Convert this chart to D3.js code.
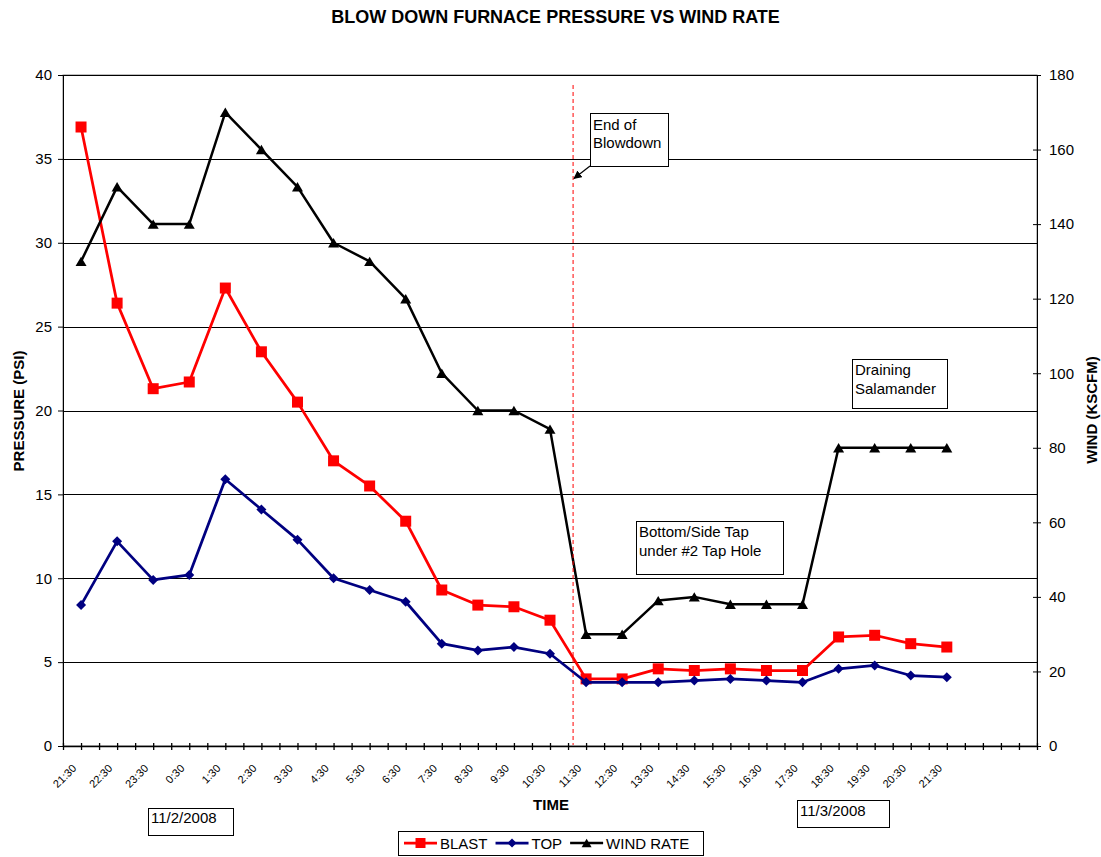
<!DOCTYPE html>
<html>
<head>
<meta charset="utf-8">
<script src="https://cdn.jsdelivr.net/npm/d3@7"></script>
<style>
  html, body { margin: 0; padding: 0; background: #fff; }
  svg { display: block; font-family: "Liberation Sans", Arial, sans-serif; }
</style>
</head>
<body>
<svg id="chart" width="1101" height="857"></svg>
<script>
// Hourly readings, 21:30 on 11/2/2008 through 21:30 on 11/3/2008
const timeLabels = ["21:30","22:30","23:30","0:30","1:30","2:30","3:30","4:30","5:30","6:30",
  "7:30","8:30","9:30","10:30","11:30","12:30","13:30","14:30","15:30","16:30","17:30",
  "18:30","19:30","20:30","21:30"];
const slotCount = 27;             // category slots on the time axis (last two empty)

// Blast pressure (PSI)
const blastPsi = [36.9, 26.4, 21.3, 21.7, 27.3, 23.5, 20.5, 17.0, 15.5, 13.4, 9.3, 8.4, 8.3, 7.5,
  4.0, 4.0, 4.6, 4.5, 4.6, 4.5, 4.5, 6.5, 6.6, 6.1, 5.9];
// Top pressure (PSI)
const topPsi = [8.4, 12.2, 9.9, 10.2, 15.9, 14.1, 12.3, 10.0, 9.3, 8.6, 6.1, 5.7, 5.9, 5.5,
  3.8, 3.8, 3.8, 3.9, 4.0, 3.9, 3.8, 4.6, 4.8, 4.2, 4.1];
// Wind rate (KSCFM), right axis
const windKscfm = [130, 150, 140, 140, 170, 160, 150, 135, 130, 120, 100, 90, 90, 85,
  30, 30, 39, 40, 38, 38, 38, 80, 80, 80, 80];

const pressureTicks = [0, 5, 10, 15, 20, 25, 30, 35, 40];
const windTicks = [0, 20, 40, 60, 80, 100, 120, 140, 160, 180];
const blowdownEndSlot = 13.64;    // end of blowdown, between 10:30 and 11:30

const svg = d3.select("#chart");
const FONT = "15px";
const plot = { left: 63, right: 1037, top: 75, bottom: 746 };

const x = d3.scaleLinear().domain([-0.5, slotCount - 0.5]).range([plot.left, plot.right]);
const yL = d3.scaleLinear().domain([0, 40]).range([plot.bottom, plot.top]);
const yR = d3.scaleLinear().domain([0, 180]).range([plot.bottom, plot.top]);

// Title
svg.append("text").attr("x", 555.5).attr("y", 23.3).attr("text-anchor", "middle")
  .attr("font-size", "18px").attr("font-weight", "bold").text("BLOW DOWN FURNACE PRESSURE VS WIND RATE");

// Plot-area frame and gridlines
svg.append("rect").attr("x", plot.left).attr("y", yL(40)).attr("width", plot.right - plot.left)
  .attr("height", plot.bottom - yL(40)).attr("fill", "none").attr("stroke", "#808080").attr("stroke-width", 1);
svg.append("g").selectAll("line").data(pressureTicks.filter(d => d > 0)).join("line")
  .attr("x1", plot.left).attr("x2", plot.right)
  .attr("y1", d => Math.round(yL(d)) + 0.5).attr("y2", d => Math.round(yL(d)) + 0.5)
  .attr("stroke", "#000").attr("stroke-width", 1);

// Left axis
const gL = svg.append("g").attr("transform", `translate(${plot.left},0)`)
  .call(d3.axisLeft(yL).tickValues(pressureTicks).tickSize(5).tickSizeOuter(0).tickPadding(6));
gL.selectAll("text").attr("font-size", FONT).attr("fill", "#000").attr("font-family", "Liberation Sans, Arial, sans-serif");
gL.selectAll("line, path").attr("stroke", "#000");

// Right axis
const gR = svg.append("g").attr("transform", `translate(${plot.right},0)`)
  .call(d3.axisRight(yR).tickValues(windTicks).tickSize(4).tickSizeOuter(0).tickPadding(8));
gR.selectAll(".tick line").attr("x1", -4);
gR.selectAll("text").attr("font-size", FONT).attr("fill", "#000").attr("font-family", "Liberation Sans, Arial, sans-serif");
gR.selectAll("line, path").attr("stroke", "#000");

// Bottom time axis: tick every half slot, label at each reading
const halfSlots = d3.range(-0.5, slotCount - 0.25, 0.5);
const gB = svg.append("g").attr("transform", `translate(0,${plot.bottom})`)
  .call(d3.axisBottom(x).tickValues(halfSlots).tickSize(4).tickSizeOuter(0).tickFormat(""));
gB.selectAll(".tick line").attr("y1", -3);
gB.selectAll("line, path").attr("stroke", "#000").attr("stroke-width", 1.3);

svg.append("g").selectAll("text").data(timeLabels).join("text")
  .attr("transform", (d, i) => `translate(${x(i) - 4},769) rotate(-45)`)
  .attr("text-anchor", "end").attr("font-size", "11px").text(d => d);

// Axis titles
svg.append("text").attr("transform", "translate(24,411) rotate(-90)").attr("text-anchor", "middle")
  .attr("font-size", FONT).attr("font-weight", "bold").text("PRESSURE (PSI)");
svg.append("text").attr("transform", "translate(1097,410) rotate(-90)").attr("text-anchor", "middle")
  .attr("font-size", FONT).attr("font-weight", "bold").text("WIND (KSCFM)");
svg.append("text").attr("x", 551).attr("y", 810).attr("text-anchor", "middle")
  .attr("font-size", FONT).attr("font-weight", "bold").text("TIME");

// Marker shapes
const markerPath = {
  square: s => `M${-s/2},${-s/2}h${s}v${s}h${-s}Z`,
  diamond: s => `M0,${-s/2}L${s/2},0L0,${s/2}L${-s/2},0Z`,
  triangle: s => `M0,${-s*0.43}L${s/2},${s*0.43}L${-s/2},${s*0.43}Z`
};

const series = [
  { name: "BLAST", values: blastPsi, y: yL, color: "#FF0000", marker: "square", size: 11, width: 2.75 },
  { name: "TOP", values: topPsi, y: yL, color: "#000080", marker: "diamond", size: 10, width: 2.75 },
  { name: "WIND RATE", values: windKscfm, y: yR, color: "#000000", marker: "triangle", size: 11, width: 2.5 }
];

series.forEach(s => {
  const g = svg.append("g");
  g.append("path").datum(s.values)
    .attr("d", d3.line().x((d, i) => x(i)).y(d => s.y(d)))
    .attr("fill", "none").attr("stroke", s.color).attr("stroke-width", s.width).attr("stroke-linejoin", "round");
  g.selectAll("path.m").data(s.values).join("path").attr("class", "m")
    .attr("transform", (d, i) => `translate(${x(i)},${s.y(d)})`)
    .attr("d", markerPath[s.marker](s.size)).attr("fill", s.color);
});

// End-of-blowdown marker line
svg.append("line").attr("x1", x(blowdownEndSlot)).attr("x2", x(blowdownEndSlot))
  .attr("y1", 85).attr("y2", plot.bottom - 1)
  .attr("stroke", "#FF0000").attr("stroke-width", 1).attr("stroke-dasharray", "4,3");

// Callout boxes
function callout(bx, by, bw, bh, lines, firstBase) {
  const g = svg.append("g");
  g.append("rect").attr("x", bx + 0.5).attr("y", by + 0.5).attr("width", bw).attr("height", bh)
    .attr("fill", "#fff").attr("stroke", "#000").attr("stroke-width", 1);
  lines.forEach((t, k) => g.append("text").attr("x", bx + 3).attr("y", firstBase + k * 18.5)
    .attr("font-size", FONT).text(t));
}
callout(590, 113, 78, 53, ["End of", "Blowdown"], 129.5);
callout(852, 359, 95, 49, ["Draining", "Salamander"], 375);
callout(636, 521, 147, 53, ["Bottom/Side Tap", "under #2 Tap Hole"], 537);
callout(148, 808, 85, 27, ["11/2/2008"], 823);
callout(797, 800, 92, 27, ["11/3/2008"], 816);

// Arrow from the callout to the marker line
svg.append("defs").append("marker").attr("id", "arrow").attr("viewBox", "0 0 10 10")
  .attr("refX", 9).attr("refY", 5).attr("markerWidth", 7).attr("markerHeight", 7)
  .attr("orient", "auto").append("path").attr("d", "M0,0L10,5L0,10Z").attr("fill", "#000");
svg.append("line").attr("x1", 590).attr("y1", 166).attr("x2", 574).attr("y2", 178.5)
  .attr("stroke", "#000").attr("stroke-width", 1.2).attr("marker-end", "url(#arrow)");

// Legend
const leg = svg.append("g");
const legRect = leg.append("rect").attr("x", 398.5).attr("y", 831.5).attr("width", 305).attr("height", 24)
  .attr("fill", "#fff").attr("stroke", "#000").attr("stroke-width", 1);
let lx = 404;
series.forEach(s => {
  leg.append("line").attr("x1", lx).attr("x2", lx + 33).attr("y1", 843).attr("y2", 843)
    .attr("stroke", s.color).attr("stroke-width", s.width);
  leg.append("path").attr("transform", `translate(${lx + 16.5},843)`).attr("d", markerPath[s.marker](s.size - 1))
    .attr("fill", s.color);
  const t = leg.append("text").attr("x", lx + 36).attr("y", 849).attr("font-size", FONT).text(s.name);
  lx += 36 + t.node().getComputedTextLength() + 8;
});
</script>
</body>
</html>
